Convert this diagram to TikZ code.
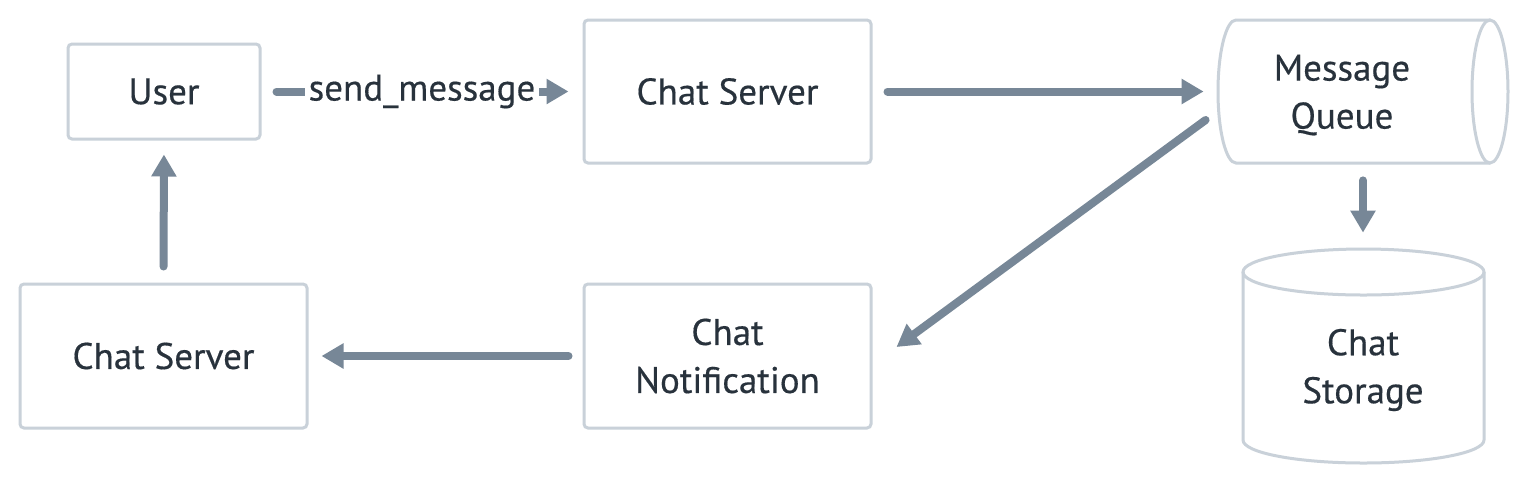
\documentclass[tikz,border=0pt]{standalone}
\usepackage{fontspec}
\setmainfont{PT Sans}[FakeBold=0.4]
\usetikzlibrary{arrows.meta,calc}
\definecolor{edgec}{HTML}{C9D1D9}
\definecolor{arrowc}{HTML}{778797}
\definecolor{txtc}{HTML}{28323C}
\begin{document}
\begin{tikzpicture}[x=0.5pt,y=-0.5pt,
  lbl/.style={text=txtc, font=\fontsize{18.5}{24}\selectfont, align=center, inner sep=0},
  box/.style={lbl, draw=edgec, line width=1.5pt, rounded corners=2pt, fill=white},
  outline/.style={draw=edgec, line width=1.5pt},
  flow/.style={draw=arrowc, line width=4pt, line cap=round, -{Triangle[length=11pt,width=12pt]}},
]
\useasboundingbox[fill=white] (0,0) rectangle (1528,484);

\node[box, minimum width=96pt, minimum height=47.5pt] (user) at (164,91.5) {User};
\node[box, minimum width=143.5pt, minimum height=71.5pt] (cs1) at (727.5,91.5) {Chat Server};
\node[box, minimum width=143.5pt, minimum height=72pt] (cs2) at (163.5,356) {Chat Server};
\node[box, minimum width=143.5pt, minimum height=72pt] (cn) at (727.5,356) {Chat\\Notification};

% Message Queue (horizontal cylinder)
\draw[outline] (1490,20) -- (1236,20) arc[start angle=270, end angle=90, x radius=18, y radius=71.5] -- (1490,163);
\draw[outline] (1490,91.5) ellipse[x radius=18, y radius=71.5];
\node[inner sep=0, minimum width=145pt, minimum height=71.5pt] (mq) at (1363,91.5) {};
\node[lbl] (mqtext) at (1342,95) {Message\\Queue};

% Chat Storage (vertical cylinder)
\draw[outline] (1243,272) -- (1243,440) arc[start angle=180, end angle=0, x radius=120.5, y radius=23] -- (1484,272);
\draw[outline] (1363.5,272) ellipse[x radius=120.5, y radius=23];
\node[inner sep=0, minimum width=120.5pt, minimum height=107pt] (st) at (1363.5,356) {};
\node[lbl] (sttext) at (1363,370) {Chat\\Storage};

% connectors
\draw[flow, shorten <=7.5pt, shorten >=7pt] (user.east) -- node[lbl, fill=white, inner xsep=2pt, inner ysep=4pt] (sm) {send\_message} (cs1.west);
\draw[flow, shorten <=7.5pt, shorten >=7pt] (cs1.east) -- (mq.west);
\draw[flow] ($(mq.west)+(-12,28.5)$) -- ($(cn.east)+(24,-9)$);
\draw[flow, shorten <=8.5pt, shorten >=8pt] (mq.south) -- (mq.south |- st.north);
\draw[flow, shorten <=7pt, shorten >=6.5pt] (cn.west) -- (cs2.east);
\draw[flow, shorten <=8pt, shorten >=7pt] (cs2.north) -- (user.south);
\end{tikzpicture}
\end{document}
